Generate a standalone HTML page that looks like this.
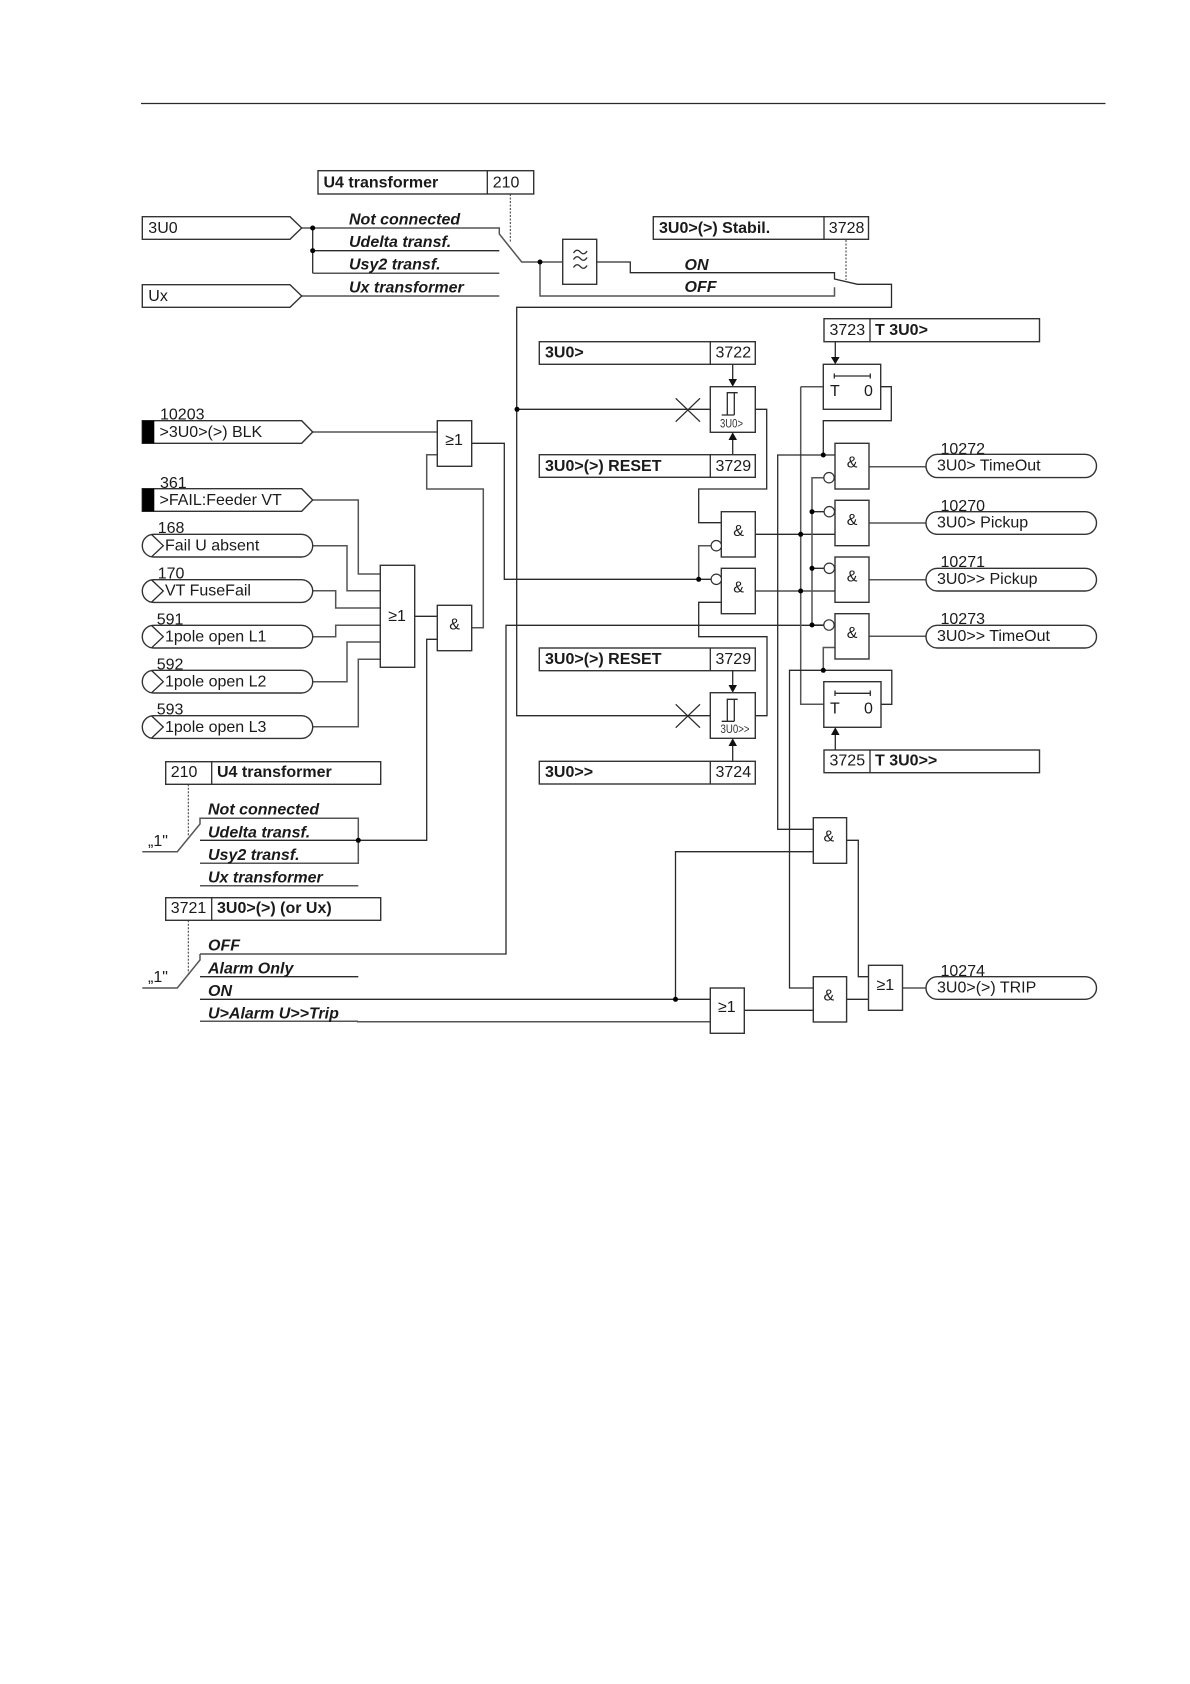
<!DOCTYPE html>
<html><head><meta charset="utf-8"><title>3U0 logic diagram</title>
<style>
html,body{margin:0;padding:0;background:#fff}
svg{display:block}
text{font-family:"Liberation Sans",Arial,sans-serif;font-size:16px;fill:#1a1a1a;transform:translateY(-.6px)}
.b{font-weight:bold}
.i{font-weight:bold;font-style:italic;transform:none}
.l{fill:none;stroke:#2a2a2a;stroke-width:1.3}
.g{fill:none;stroke:#555;stroke-width:1.5}
.box{fill:#fff;stroke:#333;stroke-width:1.4}
.d{fill:none;stroke:#333;stroke-width:1;stroke-dasharray:2 1.5}
.bub{fill:#fff;stroke:#333;stroke-width:1.2}
.s{font-size:12px;fill:#333;transform:none}
</style></head><body>
<svg width="1190" height="1684" viewBox="0 0 1190 1684" xmlns="http://www.w3.org/2000/svg">
<rect width="1190" height="1684" fill="#fff"/>
<path class="l" d="M141 103.5H1105.5"/>

<!-- top inputs and selector -->
<path class="g" d="M301.7 228H499.3V234L521.7 262H562.7"/>
<path class="l" d="M312.7 228V273.3M312.7 250.7H499.3"/>
<path class="g" d="M312.7 273.3H499.3M301.7 296H499.3"/>
<path class="g" d="M540 262V296H834.5V287.3"/>
<path class="l" d="M596.7 262H630.3V272.7H834.5V279L857.5 284.3H891.5V307.3H516.7V715.7H710"/>
<path class="d" d="M510.3 194V243M846 240V280"/>
<circle cx="312.7" cy="228" r="2.5" fill="#000"/><circle cx="312.7" cy="250.7" r="2.5" fill="#000"/><circle cx="540" cy="262" r="2.5" fill="#000"/>
<path class="box" d="M142.3 216.7H290L301.7 228L290 239.3H142.3Z"/><text x="148.3" y="233.5">3U0</text>
<path class="box" d="M142.3 284.7H290L301.7 296L290 307.3H142.3Z"/><text x="148.3" y="301.5">Ux</text>
<rect class="box" x="318" y="170.7" width="215.7" height="23.3"/><path class="l" d="M487.3 170.7V194"/>
<text class="b" x="323.5" y="188">U4 transformer</text><text x="492.7" y="188">210</text>
<text class="i" x="349" y="224.3">Not connected</text><text class="i" x="349" y="247">Udelta transf.</text>
<text class="i" x="349" y="269.7">Usy2 transf.</text><text class="i" x="349" y="292.7">Ux transformer</text>
<rect class="box" x="562.7" y="239.3" width="34" height="45"/>
<path class="l" stroke-width="1.5" d="M573.5 253q3.300-5 6.800-1t6.800-1M573.5 259.500q3.300-5 6.800-1t6.800-1M573.500 267.500q3.300-5 6.800-1t6.800-1"/>
<rect class="box" x="653.300" y="216.700" width="215.200" height="22.600"/><path class="l" d="M824 216.700V239.300"/>
<text class="b" x="659" y="233.500">3U0&gt;(&gt;) Stabil.</text><text x="828.800" y="233.500">3728</text>
<text class="i" x="684.500" y="270">ON</text><text class="i" x="684.500" y="292">OFF</text>

<!-- signals into hysteresis -->
<path class="l" d="M517 409.300H710.300"/><circle cx="517" cy="409.300" r="2.500" fill="#000"/>
<path class="l" d="M675.700 398.300L700 421.700M700 398.300L675.700 421.700"/>
<path class="l" d="M675.700 704.300L700 727.700M700 704.300L675.700 727.700"/>

<rect class="box" x="539.300" y="341.700" width="216" height="22.600"/><path class="l" d="M710.300 341.700V364.300"/>
<text class="b" x="545" y="358">3U0&gt;</text><text x="715.500" y="358">3722</text>
<path class="l" d="M732.700 364.300V380"/><path d="M728.500 379H737L732.700 386.700Z" fill="#111"/>
<rect class="box" x="710.300" y="386.700" width="45" height="45.600"/>
<path class="l" d="M721.700 415H734.300M727.300 415V392.700H737.700M734.300 392.700V415"/>
<text class="s" x="720" y="427.500" textLength="23" lengthAdjust="spacingAndGlyphs">3U0&gt;</text>
<path class="l" d="M732.700 454.700V439"/><path d="M728.500 440H737L732.700 432.300Z" fill="#111"/>
<rect class="box" x="539.300" y="454.700" width="216" height="22.600"/><path class="l" d="M710.300 454.700V477.300"/>
<text class="b" x="545" y="471.500">3U0&gt;(&gt;) RESET</text><text x="715.500" y="471.500">3729</text>
<path class="l" d="M755.300 409.300H766.700V489H698.700V522.700H721.300"/>

<rect class="box" x="539.300" y="648" width="216" height="22.700"/><path class="l" d="M710.300 648V670.700"/>
<text class="b" x="545" y="664.500">3U0&gt;(&gt;) RESET</text><text x="715.500" y="664.500">3729</text>
<path class="l" d="M732.700 670.700V686"/><path d="M728.500 685H737L732.700 692.700Z" fill="#111"/>
<rect class="box" x="710.300" y="692.700" width="45" height="45.600"/>
<path class="l" d="M721.700 721.300H734.300M727.300 721.300V699.300H737.700M734.300 699.300V721.300"/>
<text class="s" x="720.500" y="733" textLength="29" lengthAdjust="spacingAndGlyphs">3U0&gt;&gt;</text>
<path class="l" d="M732.700 761.300V745"/><path d="M728.500 746H737L732.700 738.300Z" fill="#111"/>
<rect class="box" x="539.300" y="761.300" width="216" height="22.700"/><path class="l" d="M710.300 761.300V784"/>
<text class="b" x="545" y="777.500">3U0&gt;&gt;</text><text x="715.500" y="777.500">3724</text>
<path class="l" d="M755.300 715.700H767V636.700H698.700V602.300H721.300"/>

<!-- left inputs -->
<path class="g" d="M312.700 432H437.300"/>
<path class="g" d="M312.700 500H358.300V574H380.300M312.700 545.700H347V590.700H380.300M312.700 590.700H335.700V608H380.300M312.700 636.700H335.700V625.300H380.300M312.700 681.700H347V642H380.300M312.700 726.700H358.300V659.300H380.300"/>
<path class="l" d="M414.700 616.300H437.300"/>
<path class="g" d="M471.700 627.700H483.300V489H426.700V454.700H437.300"/>
<path class="l" d="M471.700 443.300H504.300V579.300H711"/>
<path class="l" d="M437.300 639.300H426.700V840.300H200"/>
<path class="l" d="M200 954H506V625.300H824"/>
<text x="160" y="419.900">10203</text>
<path class="box" d="M142.300 420.700H301.700L312.700 432L301.700 443.300H142.300Z"/><rect x="142.300" y="420.700" width="12" height="22.600" fill="#000"/>
<text x="159.500" y="437.500">&gt;3U0&gt;(&gt;) BLK</text>
<text x="160" y="488.500">361</text>
<path class="box" d="M142.300 488.700H301.700L312.700 500L301.700 511.300H142.300Z"/><rect x="142.300" y="488.700" width="12" height="22.600" fill="#000"/>
<text x="159.500" y="505.500">&gt;FAIL:Feeder VT</text>

<text x="157.700" y="533.600">168</text>
<rect class="box" x="142.300" y="534.300" width="170.400" height="22.700" rx="11.300"/><path class="l" d="M151.700 534.600L163.300 545.700L151.700 556.700"/>
<text x="165" y="551">Fail U absent</text>
<text x="157.700" y="578.900">170</text>
<rect class="box" x="142.300" y="579.700" width="170.400" height="22.700" rx="11.300"/><path class="l" d="M151.700 580L163.300 591L151.700 602"/>
<text x="165" y="596.300">VT FuseFail</text>
<text x="156.700" y="624.900">591</text>
<rect class="box" x="142.300" y="625.300" width="170.400" height="22.700" rx="11.300"/><path class="l" d="M151.700 625.600L163.300 636.700L151.700 647.700"/>
<text x="165" y="642">1pole open L1</text>
<text x="156.700" y="669.900">592</text>
<rect class="box" x="142.300" y="670.300" width="170.400" height="22.700" rx="11.300"/><path class="l" d="M151.700 670.600L163.300 681.700L151.700 692.700"/>
<text x="165" y="687">1pole open L2</text>
<text x="156.700" y="715.300">593</text>
<rect class="box" x="142.300" y="715.700" width="170.400" height="22.700" rx="11.300"/><path class="l" d="M151.700 716L163.300 727L151.700 738"/>
<text x="165" y="732.500">1pole open L3</text>

<rect class="box" x="437.300" y="420.700" width="34.400" height="45.600"/><text x="445.200" y="445.700">≥1</text>
<rect class="box" x="380.300" y="565.300" width="34.400" height="102"/><text x="388.200" y="621.700">≥1</text>
<rect class="box" x="437.300" y="605.300" width="34.400" height="45.400"/><text x="449.300" y="630">&amp;</text>

<!-- bottom-left selectors -->
<rect class="box" x="165.700" y="761.700" width="215" height="22.600"/><path class="l" d="M211.700 761.700V784.300"/>
<text x="170.700" y="777.500">210</text><text class="b" x="217" y="777.500">U4 transformer</text>
<path class="d" d="M188.300 784.300V836.700M188.300 920.300V973.300"/>
<path class="g" d="M142.300 851.700H177.300L200 824V818.300H358.300V863.300H200M200 885.700H358.300"/>
<circle cx="358.300" cy="840.300" r="2.500" fill="#000"/>
<text class="i" x="208" y="814.300">Not connected</text><text class="i" x="208" y="837.300">Udelta transf.</text>
<text class="i" x="208" y="860">Usy2 transf.</text><text class="i" x="208" y="882.700">Ux transformer</text>
<text x="148" y="846.500">„1"</text>
<rect class="box" x="165.700" y="897.700" width="215" height="22.600"/><path class="l" d="M211.700 897.700V920.300"/>
<text x="170.700" y="913.500">3721</text><text class="b" x="217" y="913.500">3U0&gt;(&gt;) (or Ux)</text>
<path class="g" d="M142.300 988H177.300L200 960V954"/>
<path class="l" d="M200 976.700H358.300M200 999.300H710.300"/>
<path class="g" d="M200 1021.300H358M357 1021.800H710.300"/>
<text class="i" x="208" y="950.300">OFF</text><text class="i" x="208" y="973.300">Alarm Only</text>
<text class="i" x="208" y="996">ON</text><text class="i" x="208" y="1018.300">U&gt;Alarm U&gt;&gt;Trip</text>
<text x="148" y="982.500">„1"</text>

<!-- centre wiring -->
<path class="g" d="M698.700 579.300V545.700H711"/>
<circle cx="698.700" cy="579.300" r="2.500" fill="#000"/>
<path class="l" d="M755.300 534.300H835M755.300 591H835"/>
<path class="g" d="M800.700 386.700H823.300M800.700 386.700V704.300H824"/>
<circle cx="800.700" cy="534.300" r="2.500" fill="#000"/><circle cx="800.700" cy="591" r="2.500" fill="#000"/>
<path class="l" d="M835 455H777.700V829.300H813.300"/>
<path class="l" d="M880.700 386.700H891.300V420.700H823.300V455"/>
<circle cx="823.300" cy="455" r="2.500" fill="#000"/>
<path class="g" d="M823.500 477.700H812V625"/>
<path class="l" d="M812 511.700H824M812 568.300H824M812 625H824"/>
<circle cx="812" cy="511.700" r="2.500" fill="#000"/><circle cx="812" cy="568.300" r="2.500" fill="#000"/><circle cx="812" cy="625" r="2.500" fill="#000"/>
<path class="g" d="M835 647.500H823.300V670.300"/>
<path class="l" d="M881 704.300H891.800V670.300H789.500V988H813.300"/>
<circle cx="823.300" cy="670.300" r="2.500" fill="#000"/>
<path class="l" d="M813.300 851.700H675.500V999.300"/><circle cx="675.500" cy="999.300" r="2.500" fill="#000"/>
<path class="l" d="M846.600 840.300H858.300V976.700H868.500M846.600 999.300H868.500M744.300 1010.300H813.300"/>
<path class="g" d="M902.500 988H926"/>
<path class="g" d="M869 466.700H926M869 523H926M869 579.700H926M869 636.300H926"/>

<!-- gates -->
<rect class="box" x="721.300" y="511.700" width="34" height="45.300"/><text x="733.300" y="536.700">&amp;</text>
<rect class="box" x="721.300" y="568.300" width="34" height="45.400"/><text x="733.300" y="593.300">&amp;</text>
<circle class="bub" cx="716.300" cy="545.700" r="5.200"/><circle class="bub" cx="716.300" cy="579.300" r="5.200"/>
<rect class="box" x="835" y="443.300" width="34" height="45.700"/><text x="846.700" y="468.300">&amp;</text>
<rect class="box" x="835" y="500.300" width="34" height="45.400"/><text x="846.700" y="525.700">&amp;</text>
<rect class="box" x="835" y="557" width="34" height="45.300"/><text x="846.700" y="582">&amp;</text>
<rect class="box" x="835" y="613.700" width="34" height="45.300"/><text x="846.700" y="638.700">&amp;</text>
<circle class="bub" cx="829" cy="477.700" r="5.200"/><circle class="bub" cx="829.300" cy="511.700" r="5.200"/><circle class="bub" cx="829.300" cy="568.300" r="5.200"/><circle class="bub" cx="829" cy="625" r="5.200"/>
<rect class="box" x="813.300" y="817.700" width="33.300" height="45.600"/><text x="823.500" y="842.300">&amp;</text>
<rect class="box" x="813.300" y="976.700" width="33.300" height="45.300"/><text x="823.500" y="1001">&amp;</text>
<rect class="box" x="868.500" y="965.300" width="34" height="45"/><text x="876.500" y="990.700">≥1</text>
<rect class="box" x="710.300" y="988" width="34" height="45.300"/><text x="718" y="1012.700">≥1</text>

<!-- timers -->
<rect class="box" x="824" y="318.700" width="215.500" height="23"/><path class="l" d="M870 318.700V341.700"/>
<text x="829.500" y="335.500">3723</text><text class="b" x="875" y="335.500">T 3U0&gt;</text>
<path class="l" d="M835.300 341.700V358"/><path d="M831 357H839.600L835.300 364.300Z" fill="#111"/>
<rect class="box" x="823.300" y="364.300" width="57.400" height="45"/>
<path class="l" d="M834.300 376H870.300M834.300 373.500V378.500M870.300 373.500V378.500"/>
<text x="830" y="396.700">T</text><text x="864" y="396.700">0</text>
<rect class="box" x="823.800" y="681.700" width="57.200" height="45.600"/>
<path class="l" d="M835 693.300H870.300M835 690.500V696M870.300 690.500V696"/>
<text x="830" y="714.300">T</text><text x="864" y="714.300">0</text>
<path class="l" d="M835.300 750V734"/><path d="M831 735H839.600L835.300 727.300Z" fill="#111"/>
<rect class="box" x="824" y="750" width="215.500" height="22.700"/><path class="l" d="M870 750V772.700"/>
<text x="829.500" y="766">3725</text><text class="b" x="875" y="766">T 3U0&gt;&gt;</text>

<!-- outputs -->
<text x="940.500" y="454.500">10272</text><rect class="box" x="926" y="454.300" width="170.500" height="23.300" rx="11.600"/><text x="937" y="471.300">3U0&gt; TimeOut</text>
<text x="940.500" y="511.500">10270</text><rect class="box" x="926" y="511.700" width="170.500" height="22.600" rx="11.300"/><text x="937" y="528">3U0&gt; Pickup</text>
<text x="940.500" y="567.800">10271</text><rect class="box" x="926" y="568.300" width="170.500" height="22.700" rx="11.300"/><text x="937" y="584.500">3U0&gt;&gt; Pickup</text>
<text x="940.500" y="624.500">10273</text><rect class="box" x="926" y="625.300" width="170.500" height="22.700" rx="11.300"/><text x="937" y="641.500">3U0&gt;&gt; TimeOut</text>
<text x="940.500" y="976.500">10274</text><rect class="box" x="926" y="976.700" width="170.500" height="22.600" rx="11.300"/><text x="937" y="993">3U0&gt;(&gt;) TRIP</text>
</svg>
</body></html>
